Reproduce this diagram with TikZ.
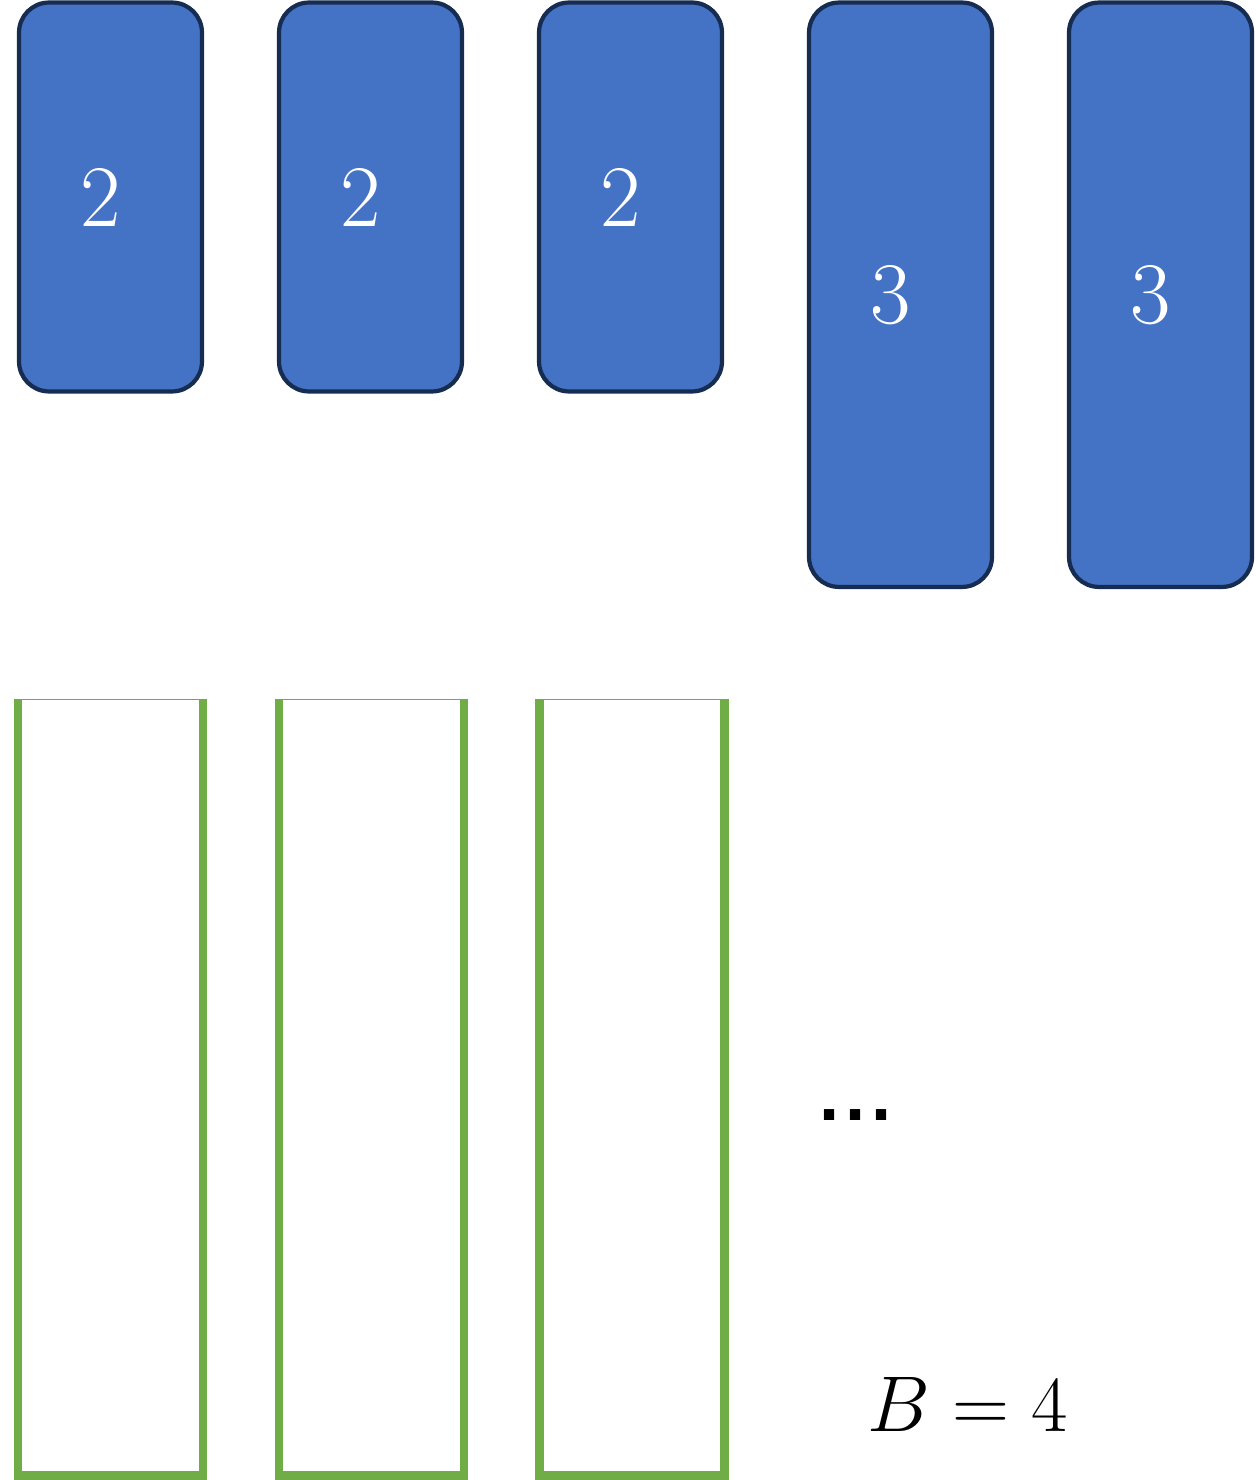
\RequirePackage{fix-cm}
\documentclass[tikz,border=0pt]{standalone}
\usepackage{fontspec}
\newfontfamily\dotfont{DejaVu Sans}
\usetikzlibrary{positioning}

\definecolor{itemblue}{HTML}{4472C4}
\definecolor{itemedge}{HTML}{172C51}
\definecolor{bingreen}{HTML}{70AD47}

\tikzset{
  item/.style={draw=itemedge, fill=itemblue, line width=2.4pt,
    rounded corners=0.6cm, minimum width=3.66cm, inner sep=0pt},
  size/.style={text=white, inner sep=0pt, font=\fontsize{50}{60}\selectfont},
  bin/.style={draw=bingreen, line width=0.6pt, minimum width=3.68cm,
    minimum height=15.52cm, inner sep=0pt},
  binwall/.style={draw=bingreen, line width=5.1pt}
}

\begin{document}
\begin{tikzpicture}[x=0.02cm, y=-0.02cm]
  \useasboundingbox (0,0) rectangle (1255,1480);

  % items
  \node [item, minimum height=7.78cm]  (i1) at (110.5, 197)   {};
  \node [item, minimum height=7.78cm]  (i2) at (370.5, 197)   {};
  \node [item, minimum height=7.78cm]  (i3) at (630.5, 197)   {};
  \node [item, minimum height=11.69cm] (i4) at (900.5, 294.75) {};
  \node [item, minimum height=11.69cm] (i5) at (1160.5, 294.75) {};

  \node [size] (s1) at ([xshift=-0.2cm]i1.center) {2};
  \node [size] (s2) at ([xshift=-0.2cm]i2.center) {2};
  \node [size] (s3) at ([xshift=-0.2cm]i3.center) {2};
  \node [size] (s4) at ([xshift=-0.2cm]i4.center) {3};
  \node [size] (s5) at ([xshift=-0.2cm]i5.center) {3};

  % bins
  \node [bin] (b1) at (110.5, 1087.5) {};
  \node [bin] (b2) at (371.5, 1087.5) {};
  \node [bin] (b3) at (632,   1087.5) {};
  \draw [binwall] (b1.north west) |- (b1.south east) -- (b1.north east);
  \draw [binwall] (b2.north west) |- (b2.south east) -- (b2.north east);
  \draw [binwall] (b3.north west) |- (b3.south east) -- (b3.north east);

  \node [inner sep=0pt, font=\dotfont\bfseries\fontsize{33}{40}\selectfont]
    (dots) at (855.5, 1115) {.\kern0.08cm.\kern0.08cm.};
  \node [inner sep=0pt, font=\fontsize{45}{54}\selectfont]
    (cap) at (967.5, 1404) {$B=4$};
\end{tikzpicture}
\end{document}
